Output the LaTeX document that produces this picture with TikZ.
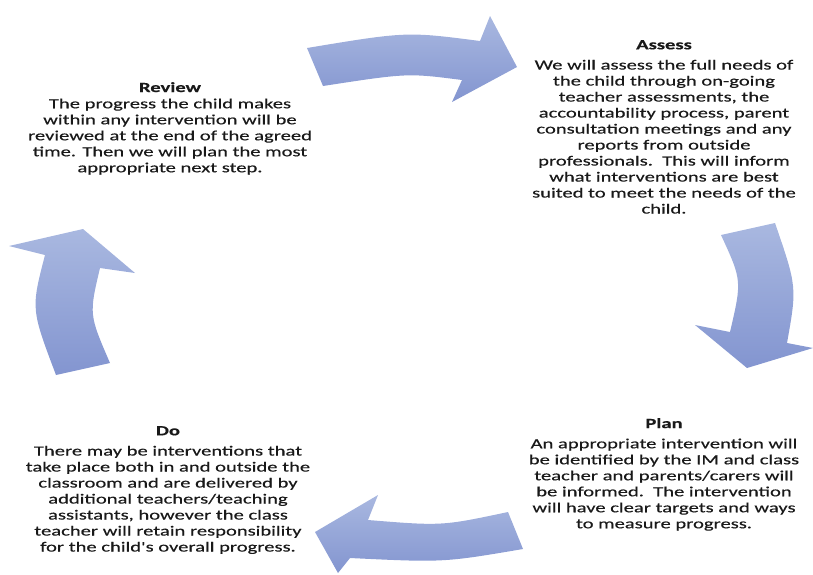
\documentclass[tikz,border=0pt]{standalone}
\usepackage{fontspec}
\setmainfont{Carlito}
\newfontfamily\stagefont[FakeStretch=1.47, FakeBold=0.4]{Carlito}
\usetikzlibrary{positioning}
\definecolor{arrowlight}{HTML}{A9B8E0}
\definecolor{arrowdark}{HTML}{8395D0}

\begin{document}
\begin{tikzpicture}[x=1pt, y=-1pt,
    cyclearrow/.style={top color=arrowlight, bottom color=arrowdark, draw=none},
    stagetitle/.style={inner sep=0pt, anchor=north, text=black!90,
        font=\stagefont\bfseries\fontsize{14}{16}\selectfont},
    stagetext/.style={align=center, inner sep=0pt, text=black!90,
        font=\stagefont\fontsize{14}{16}\selectfont}
]
    \useasboundingbox (0,0) rectangle (813,574);

    % the four curved arrows of the cycle
    \shade[cyclearrow] (307,48) .. controls (406.5,31.5) .. (480,41) -- (490,16) -- (517,67)
        -- (452,102) -- (462,80) .. controls (407.5,73) .. (323,86) -- cycle;
    \shade[cyclearrow] (775,223) .. controls (797,287) .. (787,343) -- (813,348) -- (747,368)
        -- (695,325) -- (730,332) .. controls (742,280.5) .. (721,235) -- cycle;
    \shade[cyclearrow] (523,549) .. controls (443.5,562.5) .. (350,558) -- (338,573) -- (315,532)
        -- (378,495) -- (368,520) .. controls (442,526) .. (508,512) -- cycle;
    \shade[cyclearrow] (110,363) .. controls (89,314.5) .. (100,268) -- (135,273) -- (83,229)
        -- (9,246) -- (45,255) .. controls (31,309) .. (56,375) -- cycle;

    % stages
    \node[stagetitle] (assess) at (664,40) {Assess};
    \node[stagetext, below=10pt of assess] (assessbody) {We will assess the full needs of\\
        the child through on-going\\ teacher assessments, the\\
        accountability process, parent\\ consultation meetings and any\\
        reports from outside\\ professionals.\ \ This will inform\\
        what interventions are best\\ suited to meet the needs of the\\ child.};

    \node[stagetitle] (plan) at (664,418) {Plan};
    \node[stagetext, below=10pt of plan] (planbody) {An appropriate intervention will\\
        be identified by the IM and class\\ teacher and parents/carers will\\
        be informed.\ \ The intervention\\ will have clear targets and ways\\
        to measure progress.};

    \node[stagetitle] (do) at (168,426) {Do};
    \node[stagetext, below=10pt of do] (dobody) {There may be interventions that\\
        take place both in and outside the\\ classroom and are delivered by\\
        additional teachers/teaching\\ assistants, however the class\\
        teacher will retain responsibility\\ for the child's overall progress.};

    \node[stagetitle] (review) at (170,82) {Review};
    \node[stagetext, below=6pt of review] (reviewbody) {The progress the child makes\\
        within any intervention will be\\ reviewed at the end of the agreed\\
        time. Then we will plan the most\\ appropriate next step.};
\end{tikzpicture}
\end{document}
